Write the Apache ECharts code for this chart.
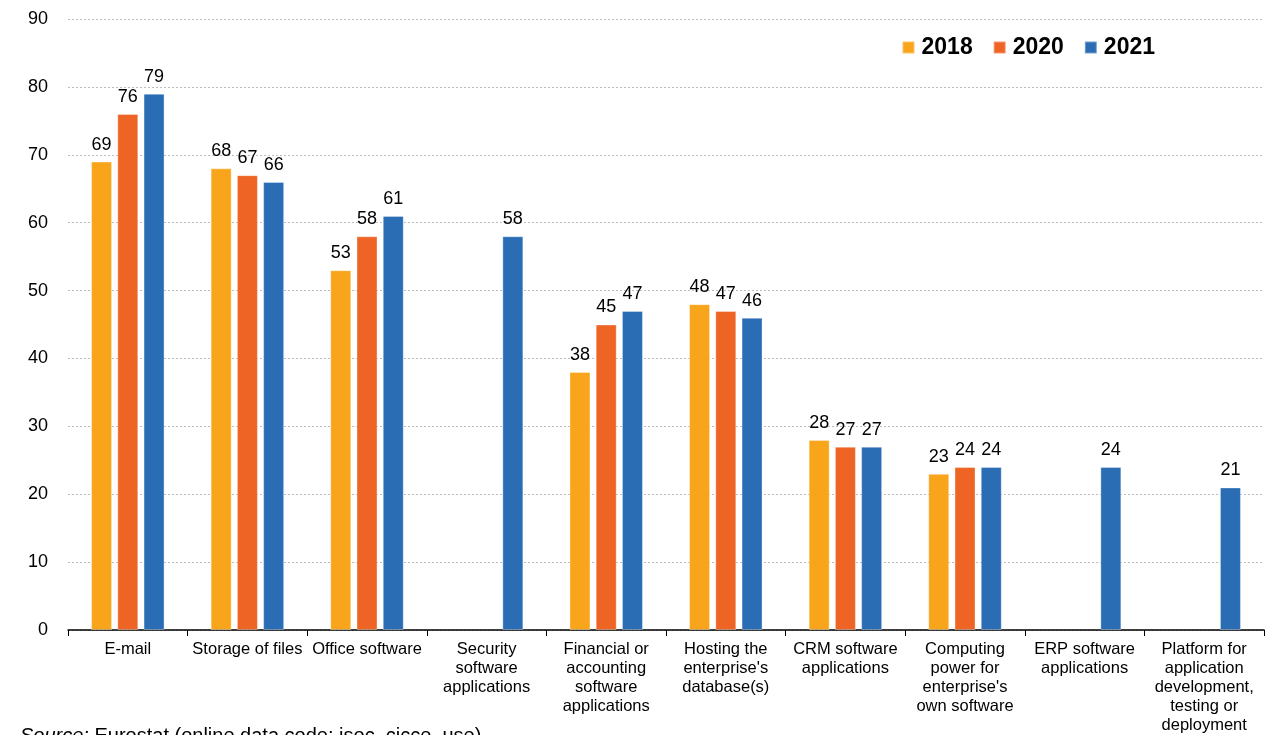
<!DOCTYPE html>
<html>
<head>
<meta charset="utf-8">
<script src="https://cdn.jsdelivr.net/npm/echarts@6/dist/echarts.min.js"></script>
<style>
  html, body { margin: 0; padding: 0; background: #fff; }
  #chart { width: 1274px; height: 735px; }
</style>
</head>
<body>
<div id="chart"></div>
<script>
// Cloud computing services used by enterprises, % of enterprises buying cloud services
const categories = [
  'E-mail',
  'Storage of files',
  'Office software',
  'Security\nsoftware\napplications',
  'Financial or\naccounting\nsoftware\napplications',
  "Hosting the\nenterprise's\ndatabase(s)",
  'CRM software\napplications',
  "Computing\npower for\nenterprise's\nown software",
  'ERP software\napplications',
  'Platform for\napplication\ndevelopment,\ntesting or\ndeployment'
];
const years = ['2018', '2020', '2021'];
const values2018 = [69, 68, 53, null, 38, 48, 28, 23, null, null];
const values2020 = [76, 67, 58, null, 45, 47, 27, 24, null, null];
const values2021 = [79, 66, 61, 58, 47, 46, 27, 24, 24, 21];
const yTicks = [0, 10, 20, 30, 40, 50, 60, 70, 80, 90];

const colors = ['#F8A51C', '#EE6424', '#2A6DB5'];
const FONT = '"Liberation Sans", Arial, sans-serif';

function barSeries(name, data, color) {
  return {
    name: name,
    type: 'bar',
    data: data.map(v => (v === null ? '-' : v)),
    barWidth: 21,
    barGap: '25%',
    itemStyle: { color: color, borderColor: 'rgba(255,255,255,0.35)', borderWidth: 1 },
    label: {
      show: true,
      position: 'top',
      distance: 8,
      color: '#000',
      fontFamily: FONT,
      fontSize: 18
    }
  };
}

const chart = echarts.init(document.getElementById('chart'));
chart.setOption({
  animation: false,
  backgroundColor: '#fff',
  textStyle: { fontFamily: FONT },
  grid: { left: 68, right: 10, top: 19, bottom: 105 },
  legend: {
    data: years,
    right: 114,
    top: 31,
    itemWidth: 12,
    itemHeight: 12,
    itemGap: 20,
    icon: 'rect',
    textStyle: { fontFamily: FONT, fontSize: 23, fontWeight: 'bold', color: '#000', padding: [0, 0, 0, 2] }
  },
  xAxis: {
    type: 'category',
    data: categories,
    axisLine: { lineStyle: { color: '#000', width: 1.5 } },
    axisTick: { show: true, length: 6, lineStyle: { color: '#000' } },
    axisLabel: {
      interval: 0,
      margin: 10,
      color: '#000',
      fontFamily: FONT,
      fontSize: 16.5,
      lineHeight: 19
    }
  },
  yAxis: {
    type: 'value',
    min: yTicks[0],
    max: yTicks[yTicks.length - 1],
    interval: 10,
    axisLine: { show: false },
    axisTick: { show: false },
    axisLabel: { margin: 20, color: '#000', fontFamily: FONT, fontSize: 18 },
    splitLine: { lineStyle: { color: '#bdbdbd', type: [2, 2], width: 1 } }
  },
  series: [
    barSeries(years[0], values2018, colors[0]),
    barSeries(years[1], values2020, colors[1]),
    barSeries(years[2], values2021, colors[2])
  ],
  graphic: [{
    type: 'text',
    left: 20,
    top: 726,
    style: {
      text: '{i|Source:} Eurostat (online data code: isoc_cicce_use)',
      fontFamily: FONT,
      fontSize: 20,
      fill: '#000',
      rich: { i: { fontStyle: 'italic', fontFamily: FONT, fontSize: 20 } }
    }
  }]
});
</script>
</body>
</html>
